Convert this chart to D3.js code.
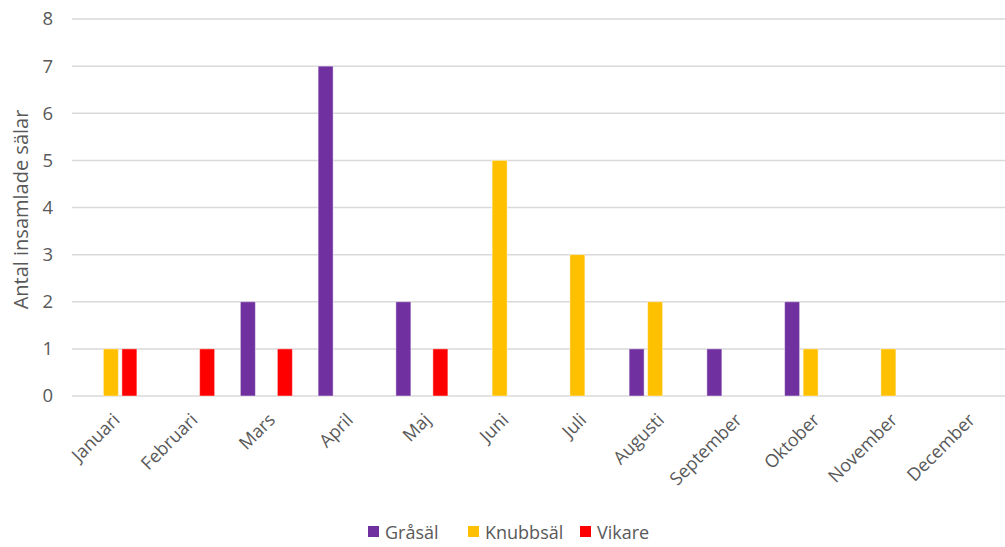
<!DOCTYPE html>
<html>
<head>
<meta charset="utf-8">
<script src="https://cdn.jsdelivr.net/npm/d3@7"></script>
<style>
  body { margin: 0; background: #fff; }
  text { font-family: "Open Sans", sans-serif; fill: #595959; }
</style>
</head>
<body>
<div id="chart"></div>
<script>
// Månader och antal insamlade sälar per art
const months = ["Januari", "Februari", "Mars", "April", "Maj", "Juni", "Juli",
    "Augusti", "September", "Oktober", "November", "December"];
const species = ["Gråsäl", "Knubbsäl", "Vikare"];
const grasal = [0, 0, 2, 7, 2, 0, 0, 1, 1, 2, 0, 0];
const knubbsal = [1, 0, 0, 0, 0, 5, 3, 2, 0, 1, 1, 0];
const vikare = [1, 1, 1, 0, 1, 0, 0, 0, 0, 0, 0, 0];
const yTicks = [0, 1, 2, 3, 4, 5, 6, 7, 8];
const colors = ["#7030A0", "#FFC000", "#FF0000"];

const series = [grasal, knubbsal, vikare];

const width = 1005, height = 547;
const margin = { left: 72, right: 0, top: 19, bottom: 151 };

const svg = d3.select("#chart")
    .append("svg")
    .attr("width", width)
    .attr("height", height);

// Scales
const x0 = d3.scaleBand()
    .domain(months)
    .range([margin.left, width - margin.right])
    .paddingInner(0)
    .paddingOuter(0);

const x1 = d3.scaleBand()
    .domain(species)
    .range([x0.bandwidth() / 2 - 26, x0.bandwidth() / 2 + 26])
    .paddingInner(0.19);

const y = d3.scaleLinear()
    .domain([0, 8])
    .range([396, margin.top]);

// Gridlines
svg.append("g")
    .selectAll("line")
    .data(yTicks)
    .enter().append("line")
    .attr("x1", margin.left)
    .attr("x2", width)
    .attr("y1", d => y(d))
    .attr("y2", d => y(d))
    .attr("stroke", "#D9D9D9")
    .attr("stroke-width", 1.5);

// Y axis labels
svg.append("g")
    .attr("transform", `translate(${margin.left - 19}, 0)`)
    .call(d3.axisLeft(y).tickValues(yTicks).tickSize(0).tickPadding(0))
    .call(g => g.select(".domain").remove())
    .selectAll("text")
    .attr("font-size", 18.5)
    .style("font-family", "'Open Sans', sans-serif")
    .attr("fill", "#595959");

// Bars
const groups = svg.append("g")
    .selectAll("g")
    .data(months)
    .enter().append("g")
    .attr("transform", d => `translate(${x0(d)}, 0)`);

groups.selectAll("rect")
    .data((m, i) => species.map((s, j) => ({ s, j, v: series[j][i] })))
    .enter().append("rect")
    .filter(d => d.v > 0)
    .attr("x", d => x1(d.s))
    .attr("width", x1.bandwidth())
    .attr("y", d => y(d.v))
    .attr("height", d => y(0) - y(d.v))
    .attr("fill", d => colors[d.j])
    .attr("stroke", "#fff")
    .attr("stroke-opacity", 0.45)
    .attr("stroke-width", 1);

// X axis labels, rotated
svg.append("g")
    .selectAll("text")
    .data(months)
    .enter().append("text")
    .attr("transform", d => `translate(${x0(d) + x0.bandwidth() / 2 + 10}, ${y(0) + 25}) rotate(-45)`)
    .attr("text-anchor", "end")
    .attr("font-size", 18)
    .text(d => d);

// Y axis title
svg.append("text")
    .attr("transform", `translate(28, ${(y(0) + y(8)) / 2 + 2}) rotate(-90)`)
    .attr("text-anchor", "middle")
    .attr("font-size", 20)
    .text("Antal insamlade sälar");

// Legend
const legendX = [368, 468, 580];
const legend = svg.append("g")
    .selectAll("g")
    .data(species)
    .enter().append("g")
    .attr("transform", (d, i) => `translate(${legendX[i]}, 532)`);

legend.append("rect")
    .attr("x", 0)
    .attr("y", -6)
    .attr("width", 11)
    .attr("height", 11)
    .attr("fill", (d, i) => colors[i]);

legend.append("text")
    .attr("x", 17)
    .attr("y", 6.5)
    .attr("font-size", 18)
    .text(d => d);
</script>
</body>
</html>
